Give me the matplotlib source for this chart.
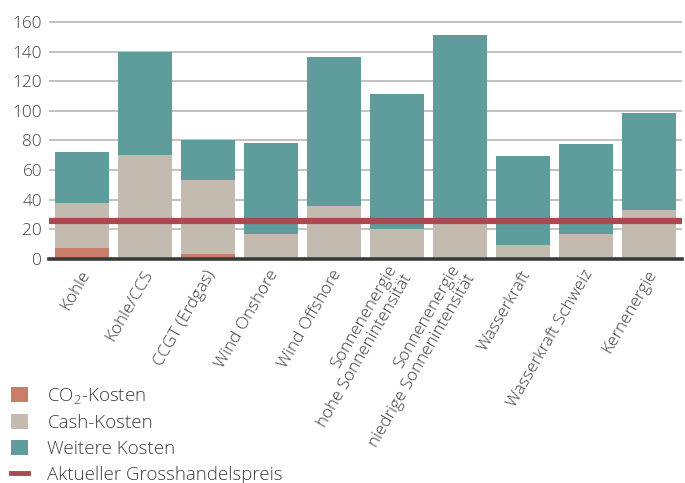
import matplotlib
matplotlib.use("Agg")
import matplotlib.pyplot as plt
import matplotlib.transforms as mtransforms
from matplotlib.patches import Patch
from matplotlib.lines import Line2D
import numpy as np

plt.rcParams["font.family"] = ["Open Sans", "DejaVu Sans"]
plt.rcParams["font.weight"] = "light"
plt.rcParams["mathtext.fontset"] = "custom"
plt.rcParams["mathtext.rm"] = "Open Sans:light"
plt.rcParams["mathtext.it"] = "Open Sans:light"

categories = [
    "Kohle", "Kohle/CCS", "CCGT (Erdgas)", "Wind Onshore", "Wind Offshore",
    "Sonnenenergie\nhohe Sonnenintensität", "Sonnenenergie\nniedrige Sonnenintensität",
    "Wasserkraft", "Wasserkraft Schweiz", "Kernenergie",
]
# Cost components (stacked); totals = co2 + cash + further
co2_cost = [7.5, 0, 3.5, 0, 0, 0, 0, 0, 0, 0]
cash_cost = [30, 70, 49.5, 17, 36, 20, 24, 9.5, 17, 33]
total_cost = [72, 140, 80.5, 78.5, 136.5, 111.5, 151.5, 69.5, 77.5, 98.5]
further_cost = [t - c - s for t, c, s in zip(total_cost, co2_cost, cash_cost)]
wholesale_price = 25.7
y_ticks = [0, 20, 40, 60, 80, 100, 120, 140, 160]

c_co2 = "#c97c67"
c_cash = "#c3bbb0"
c_further = "#5f9d9d"
c_price = "#aa4a50"
c_text = "#3f3f3f"

fig = plt.figure(figsize=(6.85, 4.83), dpi=100)
ax = fig.add_axes([49 / 685, (483 - 258.7) / 483, 633 / 685, 239.4 / 483])

x = np.arange(len(categories))
w = 0.86
ax.bar(x, co2_cost, w, color=c_co2, zorder=2)
ax.bar(x, cash_cost, w, bottom=co2_cost, color=c_cash, zorder=2)
ax.bar(x, further_cost, w, bottom=np.add(co2_cost, cash_cost), color=c_further, zorder=2)
ax.axhline(wholesale_price, color=c_price, lw=4.5, zorder=3)
ax.axhline(0, color="#3a3a3a", lw=2.6, zorder=4, clip_on=False)

ax.set_xlim(-0.524, len(categories) - 1 + 0.524)
ax.set_ylim(0, 162)
ax.set_yticks(y_ticks)
ax.yaxis.grid(True, color="#bdbdbd", lw=1.3, zorder=0)
ax.set_axisbelow(True)
for s in ax.spines.values():
    s.set_visible(False)
ax.tick_params(axis="y", length=0, pad=5, labelsize=12.3, labelcolor=c_text)
ax.tick_params(axis="x", length=0, pad=9)
ax.set_xticks(x)
ax.set_xticklabels(categories, rotation=60, ha="right", va="center",
                   rotation_mode="anchor", fontsize=12.3, color=c_text,
                   multialignment="right", linespacing=1.1)
shift = mtransforms.ScaledTranslation(4 / 100, 0, fig.dpi_scale_trans)
for lbl in ax.get_xticklabels():
    lbl.set_transform(lbl.get_transform() + shift)

handles = [
    Patch(facecolor=c_co2, edgecolor="none"),
    Patch(facecolor=c_cash, edgecolor="none"),
    Patch(facecolor=c_further, edgecolor="none"),
    Line2D([0], [0], color=c_price, lw=3.5),
]
labels = ["CO$_2$-Kosten", "Cash-Kosten", "Weitere Kosten", "Aktueller Grosshandelspreis"]
fig.legend(handles, labels, loc="upper left", bbox_to_anchor=(0.005, 0.217),
           frameon=False, fontsize=13.5, handlelength=0.9, handleheight=0.85,
           handletextpad=1.05, labelspacing=0.44, borderaxespad=0, labelcolor=c_text)

fig.savefig("out.png", dpi=100)
